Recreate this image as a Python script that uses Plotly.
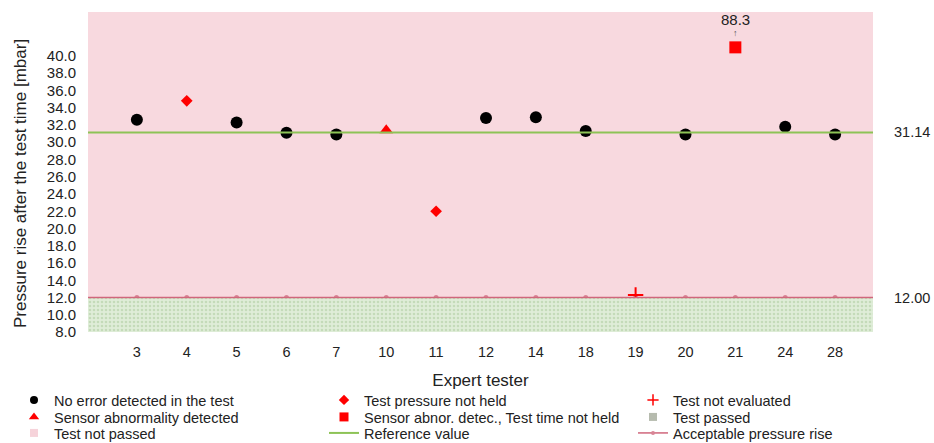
import plotly.graph_objects as go

# ---------------- data ----------------
testers = ["3", "4", "5", "6", "7", "10", "11", "12", "14", "18", "19", "20", "21", "24", "28"]
pressure_rise = [32.6, 34.8, 32.3, 31.1, 30.9, 31.4, 22.0, 32.8, 32.9, 31.3, 12.3, 30.9, 88.3, 31.8, 30.9]
status = ["ok", "pressure", "ok", "ok", "ok", "sensor", "pressure", "ok", "ok", "ok",
          "noeval", "ok", "sensor_time", "ok", "ok"]
reference_value = 31.14
acceptable_rise = 12.0
y_min, y_max = 8.0, 45.1
y_ticks = [8.0 + 2 * i for i in range(17)]
clip_value = 41.0  # out-of-range values are drawn at this height and labelled

FONT = "Liberation Sans, Arial, sans-serif"
PINK_BG = "#F8D9DF"
GREEN_LINE = "#8DC356"
ACC_LINE = "#D0677C"
RED = "#FF0000"

W, H = 934, 443
ML, MR, MT, MB = 88, 61, 12, 111
PW, PH = W - ML - MR, H - MT - MB
idx = list(range(len(testers)))

def subset(key):
    xs, ys = [], []
    for i, (s, v) in enumerate(zip(status, pressure_rise)):
        if s == key:
            xs.append(i)
            ys.append(min(v, clip_value))
    return xs, ys

fig = go.Figure()

# background: passed region (below acceptable rise) with dotted pattern
fig.add_trace(go.Scatter(
    x=[0, 1], y=[acceptable_rise, acceptable_rise], xaxis="x2", mode="none",
    fill="tozeroy", fillcolor="#DDEBD5",
    fillpattern=dict(shape=".", fgcolor="#A9C99A", bgcolor="#DFEDD8", size=4, solidity=0.35),
    showlegend=False, hoverinfo="skip"))

# reference value line (full width)
fig.add_trace(go.Scatter(
    x=[0, 1], y=[reference_value, reference_value], xaxis="x2", mode="lines",
    line=dict(color=GREEN_LINE, width=2), showlegend=False, hoverinfo="skip"))

# acceptable pressure rise (full width line + markers at each tester)
fig.add_trace(go.Scatter(
    x=[0, 1], y=[acceptable_rise, acceptable_rise], xaxis="x2", mode="lines",
    line=dict(color=ACC_LINE, width=1.5), showlegend=False, hoverinfo="skip"))
fig.add_trace(go.Scatter(
    x=idx, y=[acceptable_rise] * len(idx), mode="markers",
    marker=dict(symbol="circle", size=5, color="#D98596"),
    showlegend=False, hoverinfo="skip"))

# measurement points
specs = [
    ("ok", "circle", 12, "black"),
    ("pressure", "diamond", 9, RED),
    ("noeval", "cross-thin", 11, RED),
    ("sensor", "triangle-up", 12, RED),
    ("sensor_time", "square", 12, RED),
]
for key, sym, size, col in specs:
    xs, ys = subset(key)
    mk = dict(symbol=sym, size=size, color=col)
    if sym == "cross-thin":
        mk["line"] = dict(color=col, width=2)
    fig.add_trace(go.Scatter(x=xs, y=ys, mode="markers", marker=mk, showlegend=False))

# legend entries (3 columns x 3 rows), each its own legend box
legend_items = [
    ("No error detected in the test", dict(mode="markers", marker=dict(symbol="circle", size=8, color="black"))),
    ("Test pressure not held", dict(mode="markers", marker=dict(symbol="diamond", size=8, color=RED))),
    ("Test not evaluated", dict(mode="markers", marker=dict(symbol="cross-thin", size=8, color=RED, line=dict(color=RED, width=1.5)))),
    ("Sensor abnormality detected", dict(mode="markers", marker=dict(symbol="triangle-up", size=9, color=RED))),
    ("Sensor abnor. detec., Test time not held", dict(mode="markers", marker=dict(symbol="square", size=9, color=RED))),
    ("Test passed", dict(mode="markers", marker=dict(symbol="square", size=8, color="#B6BBAE"))),
    ("Test not passed", dict(mode="markers", marker=dict(symbol="square", size=8, color="#F6D3DA"))),
    ("Reference value", dict(mode="lines", line=dict(color=GREEN_LINE, width=2))),
    ("Acceptable pressure rise", dict(mode="lines+markers", line=dict(color=ACC_LINE, width=1.5),
                                      marker=dict(symbol="circle", size=4, color="#D98596"))),
]
col_text_x = [56, 366, 675]
row_y = [400, 417, 433]
legend_layouts = {}
for k, (name, kw) in enumerate(legend_items):
    lid = "legend" if k == 0 else f"legend{k + 1}"
    fig.add_trace(go.Scatter(x=[None], y=[None], name=name, legend=lid, showlegend=True, **kw))
    r, c = divmod(k, 3)
    legend_layouts[lid] = dict(
        xref="container", yref="container",
        x=(col_text_x[c] - 42) / W, xanchor="left",
        y=1 - row_y[r] / H, yanchor="middle",
        bgcolor="rgba(0,0,0,0)", borderwidth=0,
        font=dict(family=FONT, size=14.5, color="#222"),
        itemsizing="trace", itemclick=False, itemdoubleclick=False)

# annotations
annotations = [
    dict(x=1, y=reference_value, xref="paper", yref="y", text=f"{reference_value:.2f}",
         showarrow=False, xanchor="left", xshift=19, font=dict(size=14.5, color="#222")),
    dict(x=1, y=acceptable_rise, xref="paper", yref="y", text=f"{acceptable_rise:.2f}",
         showarrow=False, xanchor="left", xshift=19, font=dict(size=14.5, color="#222")),
    # y-axis title
    dict(x=(20 - ML) / PW, y=(MT + PH - 184) / PH, xref="paper", yref="paper",
         text="Pressure rise after the test time [mbar]", textangle=-90,
         showarrow=False, xanchor="center", yanchor="middle",
         font=dict(size=17, color="#222")),
]
for i, v in enumerate(pressure_rise):
    if v > clip_value:
        annotations.append(dict(x=i, y=clip_value, text="↑", showarrow=False, yshift=14,
                                font=dict(size=9, color="#555")))
        annotations.append(dict(x=i, y=clip_value, text=f"{v:.1f}", showarrow=False, yshift=28,
                                font=dict(size=15, color="#222")))

fig.update_layout(
    width=W, height=H,
    margin=dict(l=ML, r=MR, t=MT, b=MB, autoexpand=False),
    paper_bgcolor="white", plot_bgcolor=PINK_BG,
    font=dict(family=FONT, size=14.5, color="#222"),
    showlegend=True,
    xaxis=dict(range=[-0.98, 14.76], tickmode="array", tickvals=idx, ticktext=testers,
               showgrid=False, zeroline=False, showline=False,
               ticks="outside", ticklen=7, tickcolor="rgba(0,0,0,0)",
               tickfont=dict(size=14.5),
               title=dict(text="Expert tester", font=dict(size=17), standoff=14)),
    xaxis2=dict(range=[0, 1], overlaying="x", visible=False),
    yaxis=dict(range=[y_min, y_max], tickmode="array", tickvals=y_ticks,
               tickformat=".1f", showgrid=False, zeroline=False, showline=False,
               ticks="outside", ticklen=8, tickcolor="rgba(0,0,0,0)",
               tickfont=dict(size=15)),
    annotations=annotations,
    **legend_layouts,
)

fig.write_html("out.html")
